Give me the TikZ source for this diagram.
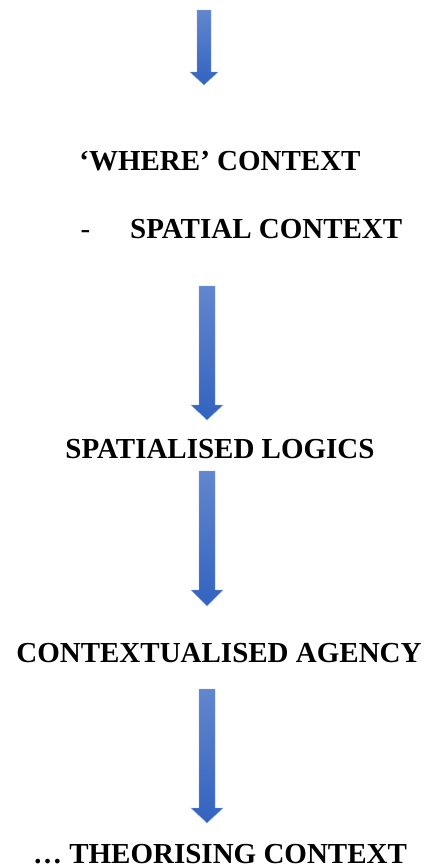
\documentclass[tikz,border=0pt]{standalone}
\usepackage{fontspec}
\setmainfont{Liberation Serif}
\usetikzlibrary{positioning}

\definecolor{arrowtop}{HTML}{6286CE}
\definecolor{arrowbottom}{HTML}{3263BF}

% block arrow: centre x, shaft half width, head half width, top, head start, tip
\newcommand{\blockarrow}[6]{%
  \shade[top color=arrowtop,bottom color=arrowbottom,draw=arrowtop!70!white,line width=0.4pt]
    (#1-#2,#4) -- (#1+#2,#4) -- (#1+#2,#5) -- (#1+#3,#5) -- (#1,#6)
    -- (#1-#3,#5) -- (#1-#2,#5) -- cycle;}

\begin{document}
\begin{tikzpicture}[x=1pt,y=-1pt,
    label/.style={anchor=base,inner sep=0pt,font=\fontsize{29}{34}\selectfont\bfseries}]
\useasboundingbox (0,0) rectangle (427,868);

\blockarrow{204}{7}{14}{10}{72}{85}

\node[label] (where) at (220,170) {‘WHERE’ CONTEXT};
\node[anchor=base,inner sep=0pt,font=\fontsize{29}{34}\selectfont] (dash) at (85.5,238) {-};
\node[label,anchor=base west] (spatial) at (130,238) {SPATIAL CONTEXT};

\blockarrow{207}{8}{16}{286}{405}{420}

\node[label] (logics) at (220,458) {SPATIALISED LOGICS};

\blockarrow{207}{8}{16}{471}{590}{606}

\node[label] (agency) at (219,662) {CONTEXTUALISED AGENCY};

\blockarrow{207}{8}{16}{689}{808}{823}

\node[label] (theory) at (220,863) {… THEORISING CONTEXT};
\end{tikzpicture}
\end{document}
